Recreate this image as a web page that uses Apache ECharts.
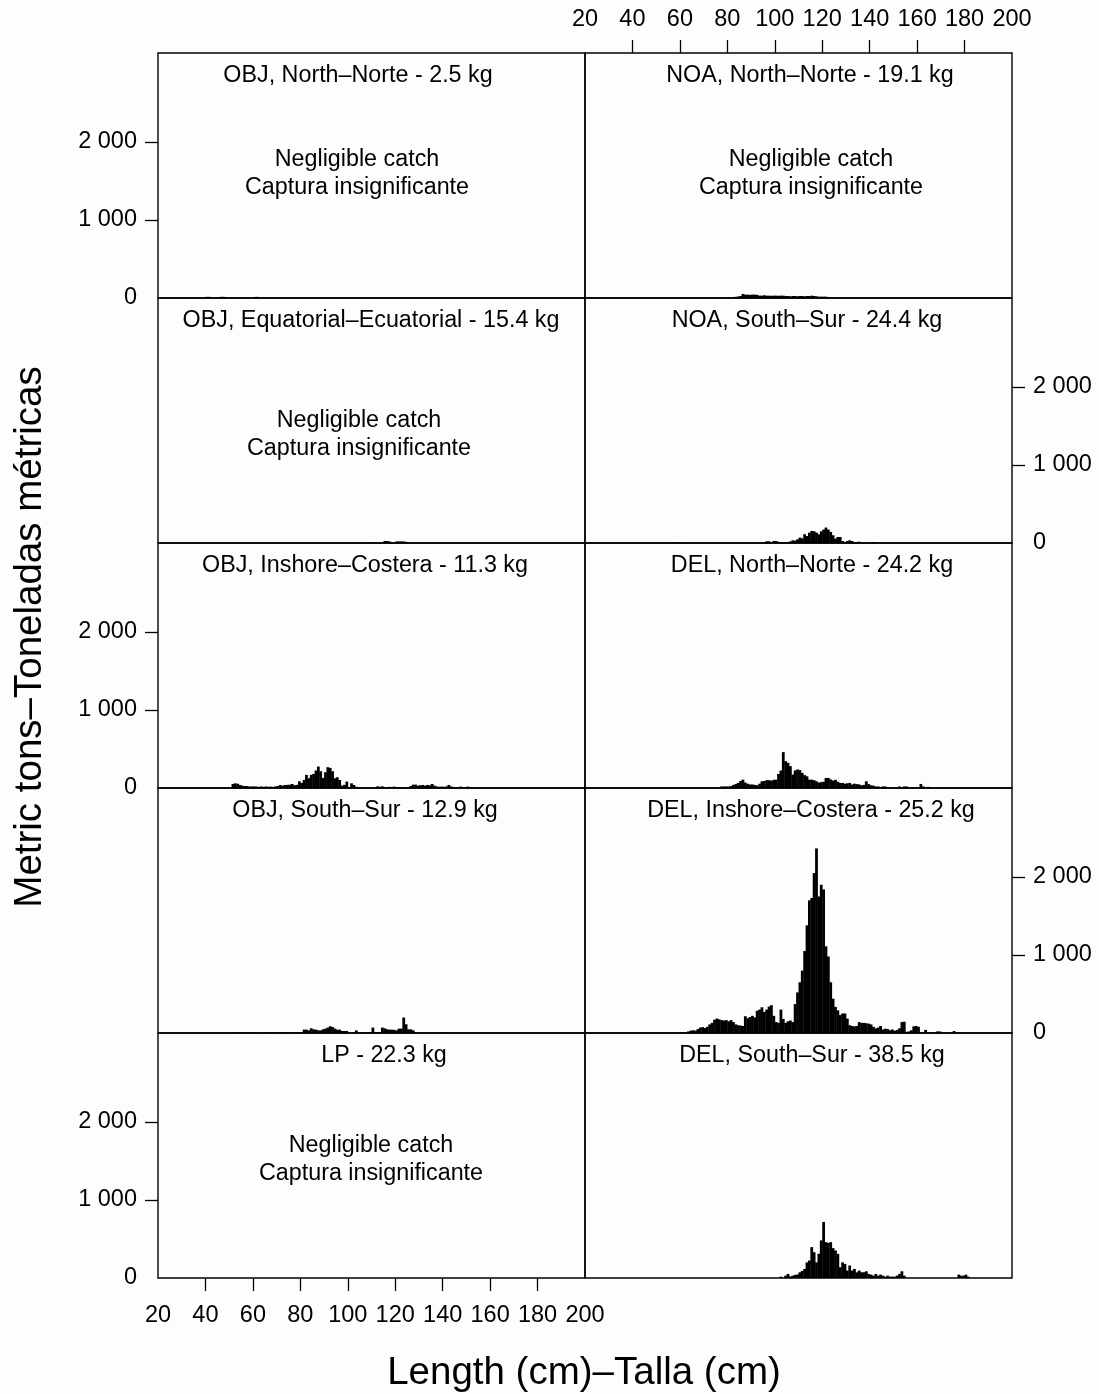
<!DOCTYPE html>
<html>
<head>
<meta charset="utf-8">
<script src="https://cdn.jsdelivr.net/npm/echarts@6/dist/echarts.min.js"></script>
<style>html,body{margin:0;padding:0;background:#fdfdfd}#c{width:1099px;height:1394px}</style>
</head>
<body>
<div id="c"></div>
<script>
// ---- Data: catch (metric tons) per 1-cm length bin; each series starts at its *Start length ----
const xTicks = [20, 40, 60, 80, 100, 120, 140, 160, 180, 200];
const yTicks = [0, 1000, 2000];

const objNorthStart = 40;
const objNorth = [15,15,0,0,0,0,15,15,10,0,0,0,0,0,0,0,0,0,0,0,0,15];

const objEquatorialStart = 110;
const objEquatorial = [10,0,0,0,0,25,25,20,10,0,20,20,20,20,15];

const objInshoreStart = 51;
const objInshore = [52,60,55,39,30,25,25,18,20,20,18,15,20,15,20,15,18,15,20,25,
  39,30,39,40,43,52,35,40,86,65,103,168,125,168,180,224,275,215,129,202,
  267,258,215,125,138,103,30,40,82,10,60,39,15,10,5,5,0,0,0,10,
  10,21,15,21,10,10,15,10,18,10,8,0,10,10,10,25,43,43,30,35,
  39,30,39,35,52,30,20,15,18,15,20,39,20,10,10,0,18,0,0,18];

const objSouthStart = 54;
const objSouth = [9,0,0,0,0,9,0,0,0,0,0,0,0,9,0,13,0,0,13,0,13,0,0,13,0,0,0,
  43,43,34,60,47,43,34,34,47,56,69,86,77,56,43,43,26,26,26,0,0,0,34,0,0,0,0,
  13,0,69,10,13,0,69,60,47,43,43,40,34,56,56,198,112,47,47,34,
  0,0,0,0,0,0,0,0,0,0,0,0,9];

const lpStart = 20;
const lp = [];

const noaNorthStart = 82;
const noaNorth = [9,15,20,25,52,43,43,40,43,43,40,30,30,35,30,30,28,30,30,28,
  30,30,26,26,22,26,26,22,26,26,22,26,26,30,26,22,17,17,17,17,12];

const noaSouthStart = 59;
const noaSouth = [10,0,0,0,0,0,0,0,0,0,0,0,0,0,0,0,0,0,0,0,0,0,0,0,0,0,0,0,0,0,0,0,0,0,0,0,0,
  22,22,0,26,26,15,10,13,13,13,20,34,30,47,69,60,112,90,133,155,150,133,112,150,
  172,198,172,142,99,56,77,77,26,13,26,34,26,13,13,17,0,0,0,0,0,13];

const delNorthStart = 76;
const delNorth = [10,20,20,20,20,25,40,50,65,90,107,70,55,45,45,40,35,55,86,90,
  100,100,95,105,107,180,224,460,344,323,280,172,225,237,230,194,165,150,107,107,
  100,86,70,75,80,129,129,110,95,105,80,65,65,55,60,65,45,55,50,45,
  35,40,86,50,34,30,20,20,0,20,20,0,0,0,0,0,20,0,20,20,0,0,0,0,0,52,20,0,15];

const delInshoreStart = 62;
const delInshore = [0,20,30,35,30,50,70,75,65,80,110,130,170,185,175,165,160,165,150,165,
  140,110,100,95,90,215,190,205,220,200,285,300,330,270,300,340,357,220,140,130,
  300,180,130,150,160,140,370,520,650,800,1050,1380,1700,1730,2050,2366,1750,1900,1840,1110,
  980,650,440,335,290,230,250,250,185,100,90,85,90,140,130,130,125,120,110,80,
  60,70,90,45,55,50,35,45,30,40,60,140,145,15,20,35,85,90,80,10,
  0,40,0,10,0,0,20,20,0,0,0,0,0,25];

const delSouthStart = 102;
const delSouth = [17,0,30,52,20,30,40,45,73,90,116,200,224,396,331,200,310,482,718,460,
  450,460,383,353,310,138,200,180,95,160,95,116,73,95,73,73,86,52,43,30,
  52,30,43,30,17,30,17,17,17,30,52,86,30,
  0,0,0,0,0,0,0,0,0,0,0,0,0,0,0,0,0,0,0,0,0,0,
  43,30,30,43,17];

const panelTitles = [
  'OBJ, North\u2013Norte - 2.5 kg', 'OBJ, Equatorial\u2013Ecuatorial - 15.4 kg',
  'OBJ, Inshore\u2013Costera - 11.3 kg', 'OBJ, South\u2013Sur - 12.9 kg', 'LP - 22.3 kg',
  'NOA, North\u2013Norte - 19.1 kg', 'NOA, South\u2013Sur - 24.4 kg',
  'DEL, North\u2013Norte - 24.2 kg', 'DEL, Inshore\u2013Costera - 25.2 kg', 'DEL, South\u2013Sur - 38.5 kg'
];
const negligibleText = 'Negligible catch\nCaptura insignificante';
const yTitle = 'Metric tons\u2013Toneladas m\u00e9tricas';
const xTitle = 'Length (cm)\u2013Talla (cm)';

// ---- Layout ----
const panels = [
  {s: objNorthStart, v: objNorth, col: 0, row: 0, neg: true},
  {s: objEquatorialStart, v: objEquatorial, col: 0, row: 1, neg: true},
  {s: objInshoreStart, v: objInshore, col: 0, row: 2},
  {s: objSouthStart, v: objSouth, col: 0, row: 3},
  {s: lpStart, v: lp, col: 0, row: 4, neg: true},
  {s: noaNorthStart, v: noaNorth, col: 1, row: 0, neg: true},
  {s: noaSouthStart, v: noaSouth, col: 1, row: 1},
  {s: delNorthStart, v: delNorth, col: 1, row: 2},
  {s: delInshoreStart, v: delInshore, col: 1, row: 3},
  {s: delSouthStart, v: delSouth, col: 1, row: 4}
];
const colLeft = [158, 585], panelW = 427, panelH = 245, top0 = 53;
const titleX = [358, 371, 365, 365, 384, 810, 807, 812, 811, 812];
const negPos = {0: [357, 174], 1: [359, 435], 4: [371, 1160], 5: [811, 174]};

const FONT = '"Liberation Sans", Arial, Helvetica, sans-serif';
const fmt = v => String(v).replace(/\B(?=(\d{3})+(?!\d))/g, ' ');

const grid = [], xAxis = [], yAxis = [], series = [], graphic = [];
panels.forEach((p, i) => {
  const top = top0 + p.row * panelH;
  grid.push({left: colLeft[p.col], top: top, width: panelW, height: panelH,
    show: true, borderColor: '#000', borderWidth: 1.4, backgroundColor: 'transparent'});
  const isTop = (p.col === 1 && p.row === 0);
  const xShow = (p.col === 0 && p.row === 4) || isTop;
  xAxis.push({type: 'value', gridIndex: i, min: 20, max: 200, interval: 20,
    position: isTop ? 'top' : 'bottom',
    axisLine: {show: false, onZero: false}, splitLine: {show: false},
    axisTick: {show: xShow, length: 13, lineStyle: {color: '#000', width: 1.3},
      customValues: xTicks.slice(1, -1)},
    axisLabel: {show: xShow, margin: isTop ? 21 : 26, color: '#000', fontSize: 23.5, fontFamily: FONT,
      customValues: xTicks, showMinLabel: true, showMaxLabel: true}
  });
  const yShow = (p.col === 0 && p.row % 2 === 0) || (p.col === 1 && p.row % 2 === 1);
  yAxis.push({type: 'value', gridIndex: i, min: 0, max: 3140, interval: 1000,
    position: p.col === 0 ? 'left' : 'right',
    axisLine: {show: false, onZero: false}, splitLine: {show: false},
    axisTick: {show: yShow, length: 13, lineStyle: {color: '#000', width: 1.3},
      customValues: yTicks.slice(1)},
    axisLabel: {show: yShow, margin: 21, color: '#000', fontSize: 23.5, fontFamily: FONT,
      customValues: yTicks, formatter: fmt}
  });
  series.push({type: 'custom', xAxisIndex: i, yAxisIndex: i,
    data: p.v.map((val, k) => [p.s + k, val]).filter(d => d[1] > 0),
    renderItem: (params, api) => {
      const x = api.value(0), y = api.value(1);
      const p0 = api.coord([x, 0]), p1 = api.coord([x + 1, y]);
      return {type: 'rect',
        shape: {x: p0[0], y: p1[1], width: p1[0] - p0[0] + 0.4, height: p0[1] - p1[1]},
        style: {fill: '#000'}};
    }
  });
  graphic.push({type: 'text', x: titleX[i], y: top + 23,
    style: {text: panelTitles[i], font: '23.3px ' + FONT, fill: '#000',
      textAlign: 'center', textVerticalAlign: 'middle'}});
  if (p.neg) {
    const np = negPos[i];
    graphic.push({type: 'text', x: np[0], y: np[1],
      style: {text: negligibleText, font: '23.3px ' + FONT, fill: '#000', lineHeight: 28,
        textAlign: 'center', textVerticalAlign: 'middle'}});
  }
});
graphic.push({type: 'text', x: 30, y: 637, rotation: Math.PI / 2,
  style: {text: yTitle, font: '38.5px ' + FONT, fill: '#000', textAlign: 'center', textVerticalAlign: 'middle'}});
graphic.push({type: 'text', x: 584, y: 1373,
  style: {text: xTitle, font: '38.5px ' + FONT, fill: '#000', textAlign: 'center', textVerticalAlign: 'middle'}});

const chart = echarts.init(document.getElementById('c'), null, {renderer: 'canvas'});
chart.setOption({backgroundColor: '#fdfdfd', animation: false, grid, xAxis, yAxis, series, graphic});
</script>
</body>
</html>
